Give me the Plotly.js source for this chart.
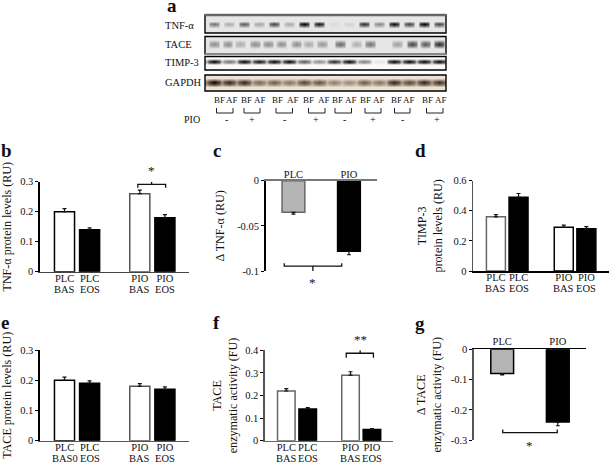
<!DOCTYPE html>
<html><head><meta charset="utf-8">
<script src="https://cdn.plot.ly/plotly-3.0.1.min.js"></script>
<style>html,body{margin:0;padding:0;background:#fff}#c{width:609px;height:462px}</style>
</head><body><div id="c"></div>
<script>
// ---- chart values ----
const groupCategories = ['PLC<br>BAS','PLC<br>EOS',' ','PIO<br>BAS','PIO<br>EOS'];
const groupCategoriesE = ['PLC<br>BAS0','PLC<br>EOS',' ','PIO<br>BAS','PIO<br>EOS'];
const deltaCategories = ['PLC','PIO'];
const groupFill = ['#ffffff','#000000','#ffffff','#000000'];
const deltaFill = ['#b5b5b5','#000000'];

const tnfValues = [0.20,0.14,0.26,0.18];     const tnfErrors = [0.010,0.006,0.012,0.010];
const dTnfValues = [-0.035,-0.078];          const dTnfErrors = [0.002,0.004];
const timpValues = [0.36,0.49,0.29,0.28];    const timpErrors = [0.015,0.025,0.015,0.015];
const taceValues = [0.20,0.19,0.18,0.17];    const taceErrors = [0.010,0.008,0.009,0.008];
const activityValues = [0.22,0.14,0.29,0.05];const activityErrors = [0.010,0.006,0.015,0.003];
const dActivityValues = [-0.08,-0.24];       const dActivityErrors = [0.004,0.012];

// blot band darkness per lane (0..1)
const blotTnfLanes = [0,1,2,3,4,5,6,7,8,9,10,11,12,13,14,15];
const blotTnfBands = [.5,.25,.6,.28,.7,.25,1,.9,.05,.08,.8,.4,.95,.7,1,.7];
const blotTaceLanes = [0,.9,1.75,2.75,3.6,4.5,5.5,6.3,7.2,8.4,9.5,10.4,12.2,13.2,14.1,15];
const blotTaceBands = [.45,.45,.28,.45,.45,.45,.45,.3,.4,.62,.28,.58,.35,.8,.72,.95];
const blotTimpLanes = [0,1,2,3,4,5,6,7,8,9,10,11,12,13,14,15];
const blotTimpBands = [1,.55,1,.95,1,1,.65,.45,.85,1,.5,.08,1,1,1,1];
const blotGapdhLanes = [0,1,2,3,4,5,6,7,8,9,10,11,12,13,14,15];
const blotGapdhBands = [1,.85,.85,.55,.6,.5,.7,.65,.45,.4,.6,.5,.85,.7,.85,.8];

const pairLabels = ['BF','AF','BF','AF','BF','AF','BF','AF','BF','AF','BF','AF','BF','AF','BF','AF'];
const pioSigns = ['-','+','-','+','-','+','-','+'];

// ---- layout helpers ----
const W=609,H=462, FONT='"Liberation Serif","Times New Roman",serif';
const layout={width:W,height:H,margin:{l:0,r:0,t:0,b:0,pad:0},paper_bgcolor:'#fff',plot_bgcolor:'rgba(0,0,0,0)',
  showlegend:false,font:{family:FONT,color:'#111',size:10},annotations:[],shapes:[]};
const traces=[];
const px=v=>v/W, py=v=>1-v/H;
function note(text,x,y,size,opt){layout.annotations.push(Object.assign({text,x:px(x),y:py(y),xref:'paper',yref:'paper',
  showarrow:false,xanchor:'center',yanchor:'middle',font:{family:FONT,size:size||10,color:'#111'}},opt||{}));}
function seg(x0,y0,x1,y1,c,w){layout.shapes.push({type:'line',xref:'paper',yref:'paper',x0:px(x0),x1:px(x1),y0:py(y0),y1:py(y1),line:{color:c||'#000',width:w||1}});}

function panel(n,box,o){
  const xk='xaxis'+n,yk='yaxis'+n,xr='x'+n,yr='y'+n;
  const isDelta=o.cats.length===2;
  const idx=o.cats.map((c,i)=>i).filter(i=>o.cats[i].trim()!=='');
  const cats=idx.map(i=>o.cats[i]);
  layout[xk]={domain:[px(box.l),px(box.r)],anchor:yr,type:'category',categoryorder:'array',categoryarray:o.cats,
    range:o.xrange,fixedrange:true,showgrid:false,zeroline:false,showline:true,linecolor:o.xline||'#000',linewidth:1.6,
    ticks:'',tickmode:'array',tickvals:cats,ticktext:cats.map(c=>c.split('<br>')[0]),
    ticklabelstandoff:o.labelShift!==undefined?o.labelShift:(isDelta?-3:-4),
    tickfont:{family:FONT,size:10.5,color:'#111'},side:isDelta?'top':'bottom'};
  layout[yk]={domain:[py(box.b),py(box.t)],anchor:xr,range:o.yrange,fixedrange:true,showgrid:false,zeroline:false,
    showline:true,linecolor:o.yline||'#000',linewidth:1.6,ticks:'outside',ticklen:3,tickwidth:1,tickcolor:'#000',
    tickmode:'array',tickvals:o.ticks.map(Number),ticktext:o.ticks,tickfont:{family:FONT,size:10.5,color:'#111'},
    title:{text:o.title,standoff:o.standoff,font:{family:FONT,size:o.tsize||12.1,color:'#111'}}};
  traces.push({type:'bar',x:cats,y:o.values,xaxis:xr,yaxis:yr,width:o.barw,hoverinfo:'skip',
    marker:{color:o.fill,line:{color:o.edge||'#000',width:1.5}},
    error_y:{type:'data',symmetric:false,array:isDelta?o.errors.map(()=>0):o.errors,arrayminus:isDelta?o.errors:o.errors.map(()=>0),
      color:'#111',thickness:1.2,width:2}});
  if(o.bracket){
    // a hidden linear axis over the category axis, same span, lets the brackets sit between categories
    const ox='xaxis'+(n+20);
    layout[ox]={domain:[px(box.l),px(box.r)],anchor:yr,overlaying:xr,range:o.xrange,visible:false,fixedrange:true};
    traces.push({type:'scatter',mode:'lines',x:o.bracket.x,y:o.bracket.y,xaxis:'x'+(n+20),yaxis:yr,cliponaxis:false,hoverinfo:'skip',
      line:{color:'#111',width:1.3}});
  }
  if(!isDelta) cats.forEach(c=>{const p=c.split('<br>');
    layout.annotations.push({text:p[1],x:c,xref:xr,y:py(box.b+17.5),yref:'paper',showarrow:false,xanchor:'center',yanchor:'middle',
      font:{family:FONT,size:10.5,color:'#111'}});});
}

function blot(n,lanes,bands,box,center,half,scale,gap,wide){
  const xr='x'+n,yr='y'+n,xs=[-3],row=[0];
  const e0=wide?.48:.4, e1=wide?.32:.26;
  lanes.forEach((l,i)=>{const b=bands[i];xs.push(l-e0,l-e1,l,l+e1,l+e0);row.push(gap*b,.75*b,b,.75*b,gap*b);});
  xs.push(18);row.push(0);
  const ys=[box.t-30,center-half*1.5,center-half*.5,center,center+half*.5,center+half*1.5,box.b+30];
  const weights=[0,0,.8,1,.8,0,0];
  traces.push({type:'heatmap',x:xs,y:ys,z:weights.map(w=>row.map(v=>v*w)),xaxis:xr,yaxis:yr,zmin:0,zmax:1,zsmooth:'best',
    colorscale:scale,showscale:false,hoverinfo:'skip'});
  layout['xaxis'+n]={domain:[px(205),px(446)],anchor:yr,range:[-.6,15.47],visible:false,fixedrange:true};
  layout['yaxis'+n]={domain:[py(box.b),py(box.t)],anchor:xr,range:[box.b,box.t],visible:false,fixedrange:true};
  layout.shapes.push({type:'rect',xref:'paper',yref:'paper',x0:px(205),x1:px(446),y0:py(box.b),y1:py(box.t),line:{color:'#000',width:1.4}});
}

// ---- panels ----
panel(1,{l:40,r:189,t:181.7,b:271.7},{cats:groupCategories,values:tnfValues,errors:tnfErrors,fill:groupFill,barw:.8,
  xrange:[-.976,4.96],yrange:[0,.3],ticks:['0','0.1','0.2','0.3'],title:'TNF-α protein levels (RU)',standoff:11,xline:'#444',
  edge:['#000','#000','#555','#000'],
  bracket:{x:[2.92,2.92,3.47,3.47,3.47,4.03,4.03],y:[.28,.291,.291,.3,.291,.291,.28]}});
panel(2,{l:265.7,r:376.7,t:180.7,b:271},{cats:deltaCategories,values:dTnfValues,errors:dTnfErrors,fill:deltaFill,barw:.41,
  xrange:[-.5,1.5],yrange:[-.1,0],ticks:['-0.1','-0.05','0'],title:'Δ TNF-α (RU)',standoff:10,xline:'#777',edge:['#666','#000'],
  bracket:{x:[-.166,-.166,.35,.35,.35,.87,.87],y:[-.0915,-.0945,-.0945,-.1,-.0945,-.0945,-.0915]}});
panel(3,{l:473.3,r:609,t:180.7,b:271},{cats:groupCategories,values:timpValues,errors:timpErrors,fill:groupFill,barw:.84,
  xrange:[-1,5],yrange:[0,.6],ticks:['0','0.2','0.4','0.6'],title:'TIMP-3<br>protein levels (RU)',standoff:8,yline:'#555',
  edge:['#666','#000','#000','#000']});
panel(4,{l:40,r:189,t:350,b:440.7},{cats:groupCategoriesE,values:taceValues,errors:taceErrors,fill:groupFill,barw:.8,
  xrange:[-.976,4.96],yrange:[0,.3],ticks:['0','0.1','0.2','0.3'],title:'TACE protein levels (RU)',standoff:11,xline:'#555',
  edge:['#000','#000','#555','#000']});
panel(5,{l:265,r:392.7,t:350.3,b:440.7},{cats:groupCategories,values:activityValues,errors:activityErrors,fill:groupFill,barw:.82,
  xrange:[-.995,4.97],yrange:[0,.4],ticks:['0','0.1','0.2','0.3','0.4'],title:'TACE<br>enzymatic activity (FU)',standoff:5,xline:'#666',yline:'#555',
  edge:['#666','#000','#666','#000'],
  bracket:{x:[2.8,2.8,3.45,3.45,3.45,4.07,4.07],y:[.3675,.387,.387,.4,.387,.387,.3675]}});
panel(6,{l:474,r:586,t:349.3,b:440.3},{cats:deltaCategories,values:dActivityValues,errors:dActivityErrors,fill:deltaFill,barw:.41,
  xrange:[-.507,1.507],yrange:[-.3,0],ticks:['-0.3','-0.2','-0.1','0'],title:'Δ TACE<br>enzymatic activity (FU)',standoff:6.5,yline:'#555',labelShift:-1,
  bracket:{x:[.01,.01,.99,.99],y:[-.264,-.275,-.275,-.264]}});

// ---- blots ----
blot(8,blotTnfLanes,blotTnfBands,{t:15,b:33},24.3,2.2,[[0,'#e6e6e6'],[1,'#050505']],0,false);
blot(9,blotTaceLanes,blotTaceBands,{t:36.5,b:54},44,2.8,[[0,'#e6e6e6'],[1,'#202020']],0,false);
blot(10,blotTimpLanes,blotTimpBands,{t:56.5,b:70},61.7,1.9,[[0,'#fafafa'],[1,'#050505']],.35,true);
blot(11,blotGapdhLanes,blotGapdhBands,{t:75,b:91},82.3,3.2,[[0,'#ece3d6'],[.5,'#85735f'],[1,'#0a0503']],.5,true);
seg(205,15,446,15,'#666',2.4);
seg(205,54,446,54,'#888',2);

['TNF-α','TACE','TIMP-3','GAPDH'].forEach((t,i)=>note(t,163,[25.7,44,63,82.5][i],10.5,{xanchor:'left'}));
const labelX=[219,232,246,260,277,293,308,324,337,351,365,379,396,409,427,441];
pairLabels.forEach((t,i)=>note(t,labelX[i],100,9));
[[216.5,233],[244,260],[276,292.5],[308.5,325],[335,351.5],[365,381],[394.5,410],[426.5,443]].forEach(b=>{
  seg(b[0],108,b[0],113,'#222',1);seg(b[1],108,b[1],113,'#222',1);seg(b[0],113,b[1],113,'#222',1);});
note('PIO',192,119.5,10);
[226,251.5,284,316,344,373,402,437].forEach((x,i)=>note(pioSigns[i],x,119.5,10));

// ---- letters and stars ----
[['a',172,5],['b',6,150],['c',217,150],['d',420,150],['e',5,322],['f',216,322],['g',420,323]].forEach(a=>
  note('<b>'+a[0]+'</b>',a[1],a[2],19));
note('*',151.5,171,13);note('*',312.5,282,13);note('**',360,339,13);note('*',529,445,13);

Plotly.newPlot('c',traces,layout,{displayModeBar:false,staticPlot:true});
</script></body></html>
